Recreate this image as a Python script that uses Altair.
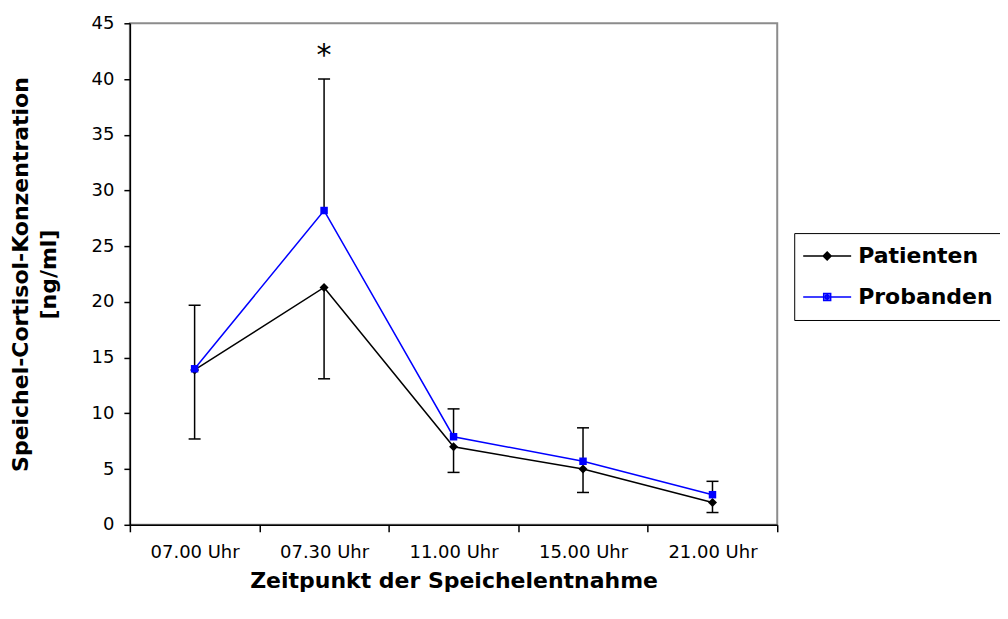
import altair as alt
import pandas as pd

# ---- data ----
times = ["07.00 Uhr", "07.30 Uhr", "11.00 Uhr", "15.00 Uhr", "21.00 Uhr"]
series_names = ["Patienten", "Probanden"]
patienten = [13.9, 21.3, 7.0, 5.0, 2.0]
probanden = [14.0, 28.2, 7.9, 5.7, 2.7]
probanden_upper = [19.7, 40.0, 10.4, 8.7, 3.9]   # upper end of Probanden error bar
patienten_lower = [7.7, 13.1, 4.7, 2.9, 1.1]     # lower end of Patienten error bar
star_times = ["07.30 Uhr"]
star_values = [40.0]
star_text = ["*"]
y_ticks = [0, 5, 10, 15, 20, 25, 30, 35, 40, 45]

colors = ["#000000", "#0000ff"]

means = pd.DataFrame({
    "time": times * 2,
    "series": [series_names[0]] * 5 + [series_names[1]] * 5,
    "value": patienten + probanden,
})
errs = pd.DataFrame({
    "time": times * 2,
    "y": probanden + patienten,
    "y2": probanden_upper + patienten_lower,
})
stars = pd.DataFrame({"time": star_times, "value": star_values, "text": star_text})

FONT = "DejaVu Sans"

x_enc = alt.X(
    "time:N",
    sort=times,
    scale=alt.Scale(type="band", paddingInner=0, paddingOuter=0),
    axis=alt.Axis(
        title="Zeitpunkt der Speichelentnahme",
        labelAngle=0,
        tickBand="extent",
        tickSize=7,
        labelPadding=12,
        titleY=63,
        titleBaseline="alphabetic",
    ),
)
y_scale = alt.Scale(domain=[0, 45], nice=False, zero=True)
y_axis = alt.Axis(
    title=["Speichel-Cortisol-Konzentration", "[ng/ml]"],
    values=y_ticks,
    tickSize=6,
    labelPadding=10,
    titleAngle=270,
    titleBaseline="top",
    titleX=-119,
    titleY=251,
    titleLineHeight=28,
)

color_scale = alt.Scale(domain=series_names, range=colors)

# legend symbols: a line segment with the (solid-looking) series marker in its middle
PATH_P = ("M-4.8,0H4.8M0,-0.8L0.8,0L0,0.8L-0.8,0Z"
          "M0,-0.45L0.45,0L0,0.45L-0.45,0ZM0,-0.8V0.8")
PATH_Q = ("M-4.8,0H4.8M-0.7,-0.7H0.7V0.7H-0.7Z"
          "M-0.35,-0.35H0.35V0.35H-0.35ZM0,-0.7V0.7")
legend_shape_scale = alt.Scale(domain=series_names, range=[PATH_P, PATH_Q])

legend = alt.Legend(
    title=None,
    orient="none",
    legendX=665,
    legendY=210,
    strokeColor="black",
    padding=12,
    symbolSize=100,
    symbolOffset=10,
    symbolStrokeWidth=1.5,
    symbolOpacity=1,
    labelOffset=20,
    rowPadding=19,
    labelFont=FONT,
    labelFontSize=22,
    labelFontWeight="bold",
    labelColor="black",
)

err_rules = alt.Chart(errs).mark_rule(color="black", strokeWidth=1.5).encode(
    x=x_enc,
    y=alt.Y("y:Q", scale=y_scale, axis=y_axis),
    y2="y2:Q",
)
err_caps = alt.Chart(errs).mark_tick(color="black", thickness=1.5, size=12, opacity=1).encode(
    x=x_enc,
    y=alt.Y("y2:Q", scale=y_scale),
)
lines = alt.Chart(means).mark_line(strokeWidth=1.5).encode(
    x=x_enc,
    y=alt.Y("value:Q", scale=y_scale),
    color=alt.Color("series:N", scale=color_scale, legend=legend),
)
pts_p = alt.Chart(means).transform_filter(
    alt.datum.series == series_names[0]
).mark_point(filled=True, opacity=1, shape="diamond", size=81, color=colors[0]).encode(
    x=x_enc,
    y=alt.Y("value:Q", scale=y_scale),
)
pts_q = alt.Chart(means).transform_filter(
    alt.datum.series == series_names[1]
).mark_point(filled=True, opacity=1, shape="square", size=56, color=colors[1]).encode(
    x=x_enc,
    y=alt.Y("value:Q", scale=y_scale),
)
# legend carrier for the symbol shapes: its own marks sit below the clipped plot area
legend_layer = alt.Chart(means).transform_calculate(
    hidden="-100"
).mark_point(filled=False, opacity=1, strokeWidth=1.5, clip=True).encode(
    x=x_enc,
    y=alt.Y("hidden:Q", scale=y_scale),
    shape=alt.Shape("series:N", scale=legend_shape_scale, legend=legend),
)
star = alt.Chart(stars).mark_text(font=FONT, fontSize=30, baseline="alphabetic", dy=-14, color="black").encode(
    x=x_enc,
    y=alt.Y("value:Q", scale=y_scale),
    text="text:N",
)

chart = (
    alt.layer(err_rules, err_caps, lines, pts_p, pts_q, legend_layer, star)
    .properties(
        width=648,
        height=502,
        autosize=alt.AutoSizeParams(type="none"),
        padding={"left": 122, "top": 15, "right": 223, "bottom": 94},
    )
    .configure_view(stroke="#8c8c8c", strokeWidth=2)
    .configure_axis(
        domainColor="black",
        domainWidth=1.5,
        tickColor="black",
        tickWidth=1.5,
        grid=False,
        labelFont=FONT,
        labelFontSize=18,
        labelColor="black",
        titleFont=FONT,
        titleFontSize=22,
        titleFontWeight="bold",
        titleColor="black",
    )
)

chart.save("out.html", embed_options={"renderer": "svg", "actions": False})
